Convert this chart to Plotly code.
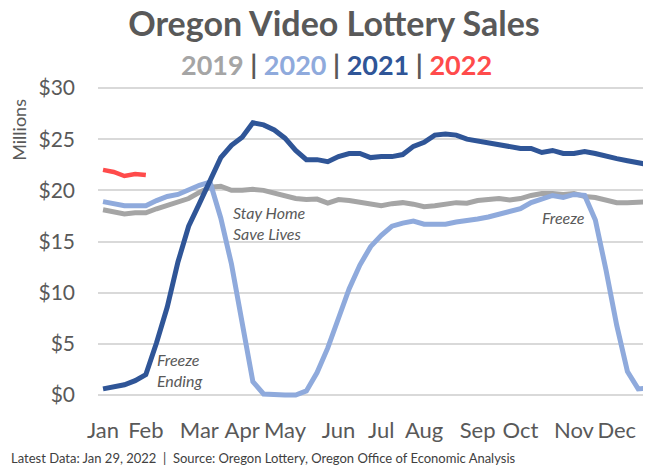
import plotly.graph_objects as go

# weekly sales, $ millions
months = ['Jan', 'Feb', 'Mar', 'Apr', 'May', 'Jun', 'Jul', 'Aug', 'Sep', 'Oct', 'Nov', 'Dec']
month_week = [0, 4, 9, 13, 17, 22, 26, 30, 35, 39, 44, 48]

sales_2019 = [18.1, 17.9, 17.7, 17.8, 17.8, 18.2, 18.5, 18.8, 19.2, 19.8, 20.3, 20.4, 20.0,
              20.0, 20.1, 20.0, 19.7, 19.4, 19.2, 19.1, 19.15, 18.75, 19.1, 19.0, 18.8, 18.7,
              18.5, 18.7, 18.8, 18.65, 18.4, 18.5, 18.6, 18.8, 18.75, 19.0, 19.1, 19.2, 19.05,
              19.2, 19.5, 19.7, 19.7, 19.6, 19.7, 19.4, 19.3, 19.0, 18.8, 18.8, 18.9, 18.9, 18.9]
sales_2020 = [18.9, 18.7, 18.5, 18.5, 18.5, 19.0, 19.4, 19.6, 20.1, 20.5, 20.8,
              17.3, 12.8, 6.8, 1.3, 0.1, 0.0, 0.0, 0.0, 0.4, 2.2, 4.6, 7.5, 10.4, 12.7, 14.5,
              15.6, 16.5, 16.8, 17.0, 16.7, 16.7, 16.7, 16.9, 17.0, 17.2, 17.4, 17.7, 17.9,
              18.2, 18.8, 19.2, 19.5, 19.3, 19.6, 19.5, 17.1, 12.2, 6.8, 2.3, 0.6, 0.7, 0.8]
sales_2021 = [0.6, 0.8, 1.0, 1.4, 2.0, 5.1, 8.6, 13.0, 16.5, 18.7, 21.0, 23.2, 24.4,
              25.2, 26.6, 26.4, 25.9, 25.1, 23.9, 23.0, 23.0, 22.8, 23.3, 23.6, 23.6, 23.2,
              23.3, 23.3, 23.5, 24.3, 24.7, 25.4, 25.5, 25.4, 25.0, 24.8, 24.6, 24.4, 24.3,
              24.1, 24.1, 23.7, 23.9, 23.6, 23.6, 23.8, 23.6, 23.3, 23.1, 22.9, 22.7, 22.4, 22.3]
sales_2022 = [22.0, 21.8, 21.4, 21.6, 21.5]

y_ticks = [0, 5, 10, 15, 20, 25, 30]

colors = {'2019': '#A5A5A5', '2020': '#8FAADC', '2021': '#2F5597', '2022': '#FF4B4B'}
font = 'Lato'
gray_txt = '#595959'

fig = go.Figure()
for yr, vals in [('2019', sales_2019), ('2020', sales_2020), ('2021', sales_2021), ('2022', sales_2022)]:
    fig.add_trace(go.Scatter(
        x=list(range(len(vals))), y=vals, mode='lines', name=yr,
        line=dict(color=colors[yr], width=5 if yr != '2022' else 4.5),
        hoverinfo='skip'
    ))

# notes in the plot
notes = [
    dict(x=12.0, y=16.8, text='Stay Home<br>Save Lives'),
    dict(x=4.85, y=2.4, text='Freeze<br>Ending'),
    dict(x=40.8, y=17.3, text='Freeze'),
]
for n in notes:
    fig.add_annotation(x=n['x'], y=n['y'], xref='x', yref='y', text='<i>' + n['text'] + '</i>',
                       showarrow=False, xanchor='left', yanchor='middle', align='left',
                       font=dict(family=font, size=16, color=gray_txt))

# subtitle acts as the legend
sep = f"<span style='color:{gray_txt}'> | </span>"
sub = sep.join(f"<span style='color:{colors[y]}'>{y}</span>" for y in ['2019', '2020', '2021', '2022'])
fig.add_annotation(x=0.4316, y=1.043, xref='paper', yref='paper', text='<b>' + sub + '</b>',
                   showarrow=False, xanchor='center', yanchor='middle',
                   font=dict(family=font, size=27, color=gray_txt))

fig.add_annotation(x=-0.142, y=0.842, xref='paper', yref='paper', text='Millions', textangle=-90,
                   showarrow=False, xanchor='center', yanchor='middle',
                   font=dict(family=font, size=18, color=gray_txt))

fig.add_annotation(x=0.7595, y=-0.169, xref='paper', yref='paper',
                   text='Latest Data: Jan 29, 2022  |  Source: Oregon Lottery, Oregon Office of Economic Analysis',
                   showarrow=False, xanchor='right', yanchor='middle',
                   font=dict(family=font, size=13, color='#404040'))

# page has an 8px body margin, so the layout is drawn 8px up/left
fig.update_layout(
    width=651, height=470,
    margin=dict(l=90, r=8, t=70, b=75),
    paper_bgcolor='white', plot_bgcolor='white',
    showlegend=False,
    title=dict(text='<b>Oregon Video Lottery Sales</b>', x=0.5008, y=0.966, xanchor='center', yanchor='middle',
               font=dict(family=font, size=34, color=gray_txt)),
    font=dict(family=font, color=gray_txt),
)
fig.update_xaxes(range=[-0.47, 51.2], tickvals=month_week, ticktext=months, showgrid=False,
                 zeroline=False, showline=False, ticks='', ticklabelstandoff=12,
                 tickfont=dict(family=font, size=22, color=gray_txt))
fig.update_yaxes(range=[-0.78, 30.98], tickvals=y_ticks, ticktext=[f'${v}' for v in y_ticks],
                 showgrid=True, gridcolor='#D9D9D9', gridwidth=1.5, zeroline=False, showline=False,
                 ticks='', ticklabelstandoff=22, tickfont=dict(family=font, size=21, color=gray_txt))

fig.write_html('out.html')
